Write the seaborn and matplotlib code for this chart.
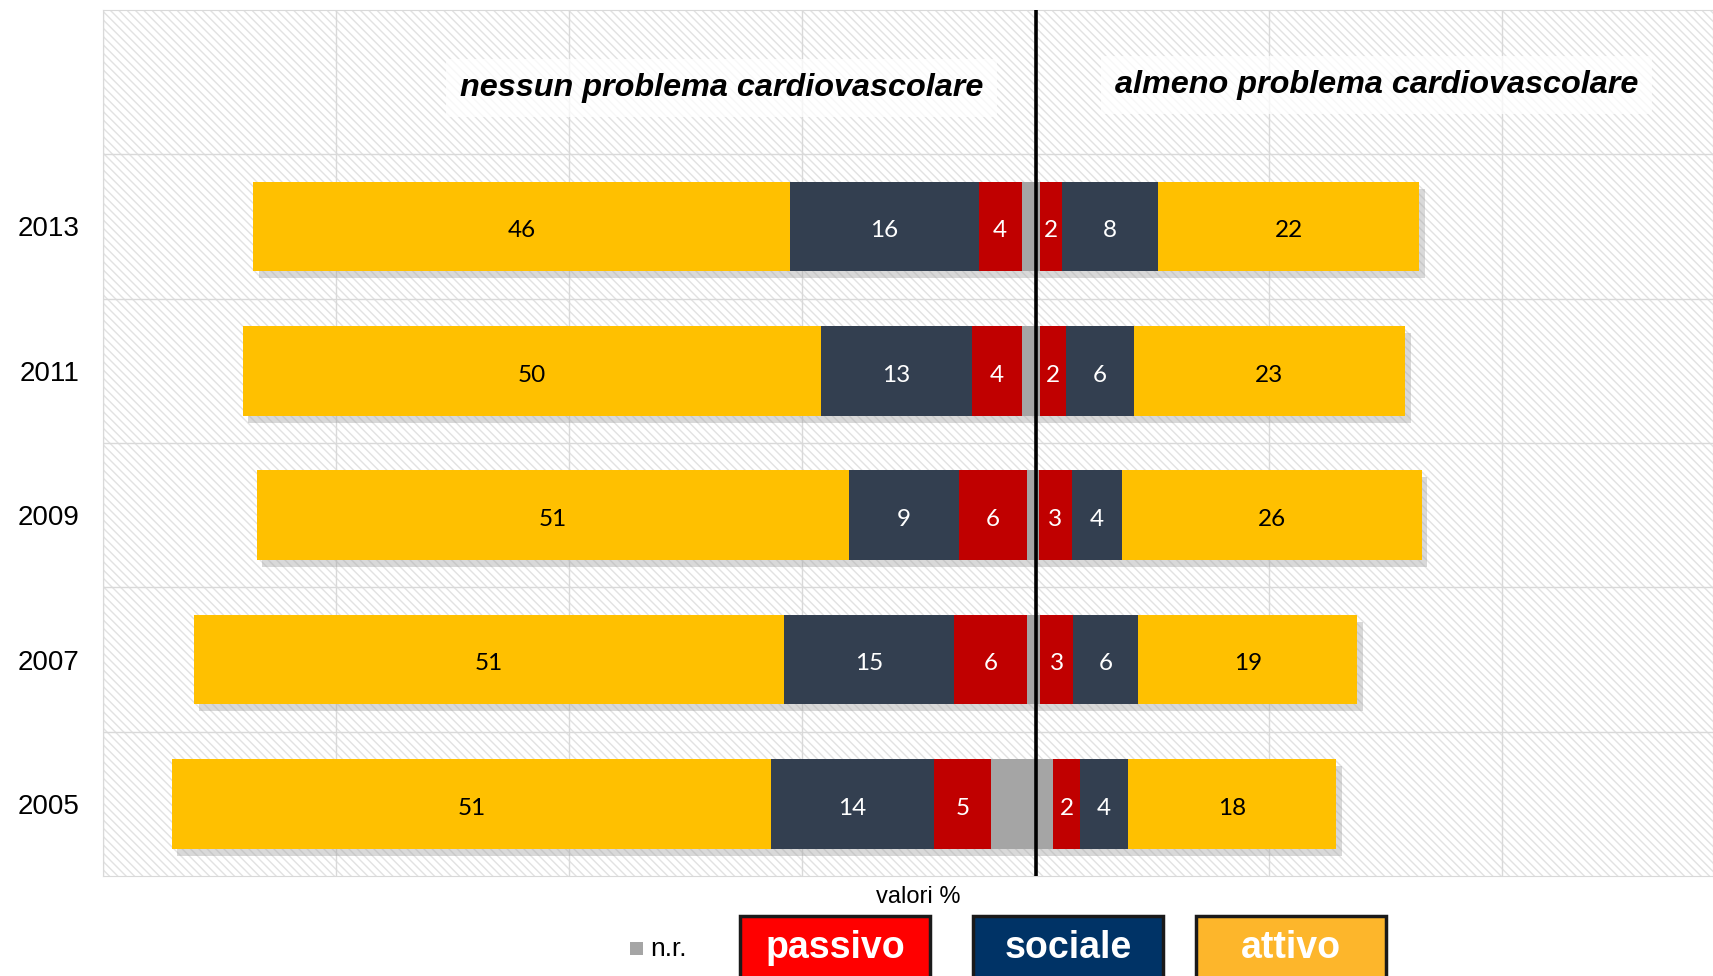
import numpy as np
import pandas as pd
import matplotlib
matplotlib.use('Agg')
import matplotlib.pyplot as plt
import matplotlib.patheffects as pe
from matplotlib.patches import Rectangle
import seaborn as sns

# Data (valori %)
years = ['2013', '2011', '2009', '2007', '2005']
nessun_attivo = [46.0, 49.6, 50.8, 50.6, 51.4]
nessun_sociale = [16.2, 12.9, 9.4, 14.6, 14.0]
nessun_passivo = [3.7, 4.3, 5.9, 6.3, 4.9]
nessun_nr = [1.2, 1.2, 0.7, 0.7, 3.8]
almeno_nr = [0.4, 0.4, 0.3, 0.4, 1.5]
almeno_passivo = [1.9, 2.2, 2.8, 2.8, 2.3]
almeno_sociale = [8.2, 5.8, 4.3, 5.6, 4.1]
almeno_attivo = [22.4, 23.3, 25.7, 18.8, 17.9]

titles = ['nessun problema cardiovascolare', 'almeno problema cardiovascolare']
legend_labels = ['passivo', 'sociale', 'attivo']

c_attivo = '#FFC000'
c_sociale = '#333F50'
c_passivo = '#C00000'
c_nr = '#A5A5A5'

sns.set_style('white')
plt.rcParams['font.family'] = ['Liberation Sans', 'DejaVu Sans']
plt.rcParams['text.color'] = 'black'
plt.rcParams['ytick.color'] = 'black'
plt.rcParams['hatch.linewidth'] = 1.0

W, H = 1713, 976
fig = plt.figure(figsize=(W / 100, H / 100), dpi=100)
ax = fig.add_axes([103 / W, 1 - 876 / H, 1 - 103 / W, 866 / H])

# hatched background of the plot area
ax.add_patch(Rectangle((0, 0), 1, 1, transform=ax.transAxes, facecolor='white',
                       edgecolor='#e2e2e2', hatch='\\\\\\\\', lw=0, zorder=0))

df = pd.DataFrame({
    'year': years,
    'n_att': nessun_attivo, 'n_soc': nessun_sociale, 'n_pas': nessun_passivo, 'n_nr': nessun_nr,
    'a_nr': almeno_nr, 'a_pas': almeno_passivo, 'a_soc': almeno_sociale, 'a_att': almeno_attivo,
})

# cumulative stacks from the centre outwards
left_order = ['n_nr', 'n_pas', 'n_soc', 'n_att']
right_order = ['a_nr', 'a_pas', 'a_soc', 'a_att']
colors = [c_nr, c_passivo, c_sociale, c_attivo]
left_cum = df[left_order].cumsum(axis=1)
right_cum = df[right_order].cumsum(axis=1)

shadow = [pe.SimplePatchShadow(offset=(4, -5), shadow_rgbFace='#a0a0a0', alpha=0.4), pe.Normal()]

for cum, sign in [(left_cum, -1), (right_cum, 1)]:
    for i in range(3, -1, -1):
        sns.barplot(x=sign * cum.iloc[:, i], y=df['year'], orient='h', color=colors[i],
                    saturation=1, width=0.62, linewidth=0, edgecolor='none', ax=ax, zorder=2)
        if i == 3:
            for p in ax.containers[-1]:
                p.set_path_effects(shadow)

# value labels
text_col = {'n_att': 'black', 'n_soc': 'white', 'n_pas': 'white',
            'a_att': 'black', 'a_soc': 'white', 'a_pas': 'white'}
for cum, order, sign in [(left_cum, left_order, -1), (right_cum, right_order, 1)]:
    for j, col in enumerate(order):
        if col.endswith('nr'):
            continue
        for k in range(len(years)):
            end = cum.iloc[k, j]
            start = end - df[col].iloc[k]
            ax.text(sign * (start + end) / 2, k + 0.03, f'{df[col].iloc[k]:.0f}', ha='center',
                    va='center', color=text_col[col], fontsize=17.5,
                    family=['Lato', 'DejaVu Sans'], zorder=5)

ax.axvline(0, color='black', lw=2.6, zorder=6)

ax.set_xlim(-80, 58.1)
ax.set_ylim(4.5, -1.5)
ax.set_xticks(np.arange(-80, 60, 20))
ax.set_xticklabels([])
ax.set_yticks(range(len(years)))
ax.set_yticklabels(years, fontsize=20)
ax.set_yticks(np.arange(-0.5, 4.5, 1), minor=True)
ax.tick_params(axis='both', which='both', length=0)
ax.tick_params(axis='y', pad=17)
ax.set_xlabel('')
ax.set_ylabel('')
ax.grid(False)
ax.grid(True, axis='x', which='major', color='#d9d9d9', lw=1)
ax.grid(True, axis='y', which='minor', color='#d9d9d9', lw=1)
ax.set_axisbelow(True)
for s in ax.spines.values():
    s.set_color('#d9d9d9')

# section titles
box = dict(facecolor='white', alpha=0.75, edgecolor='none', pad=10)
ax.text(-4.5, -0.96, titles[0], ha='right', va='center', fontsize=23.3, fontweight='bold',
        fontstyle='italic', color='black', bbox=box, zorder=4)
ax.text(6.8, -0.98, titles[1], ha='left', va='center', fontsize=23.3, fontweight='bold',
        fontstyle='italic', color='black', bbox=box, zorder=4)

# legend
fig.text(918 / W, 1 - 897 / H, 'valori %', ha='center', va='center', fontsize=17)
fig.add_artist(Rectangle((630 / W, 1 - 955 / H), 13 / W, 13 / H, transform=fig.transFigure,
                         facecolor=c_nr, edgecolor='none'))
fig.text(650 / W, 1 - 949 / H, 'n.r.', ha='left', va='center', fontsize=19)
box_x = [740, 973, 1196]
box_c = ['#FF0000', '#003366', '#FDB62B']
for bx, bc, lab in zip(box_x, box_c, legend_labels):
    fig.add_artist(Rectangle((bx / W, 1 - 995 / H), 190 / W, 79 / H, transform=fig.transFigure,
                             facecolor=bc, edgecolor='#1a1a1a', lw=2.5))
    fig.text((bx + 95) / W, 1 - 948 / H, lab, ha='center', va='center', fontsize=27,
             fontweight='bold', color='white')

fig.savefig('out.png', dpi=100)
